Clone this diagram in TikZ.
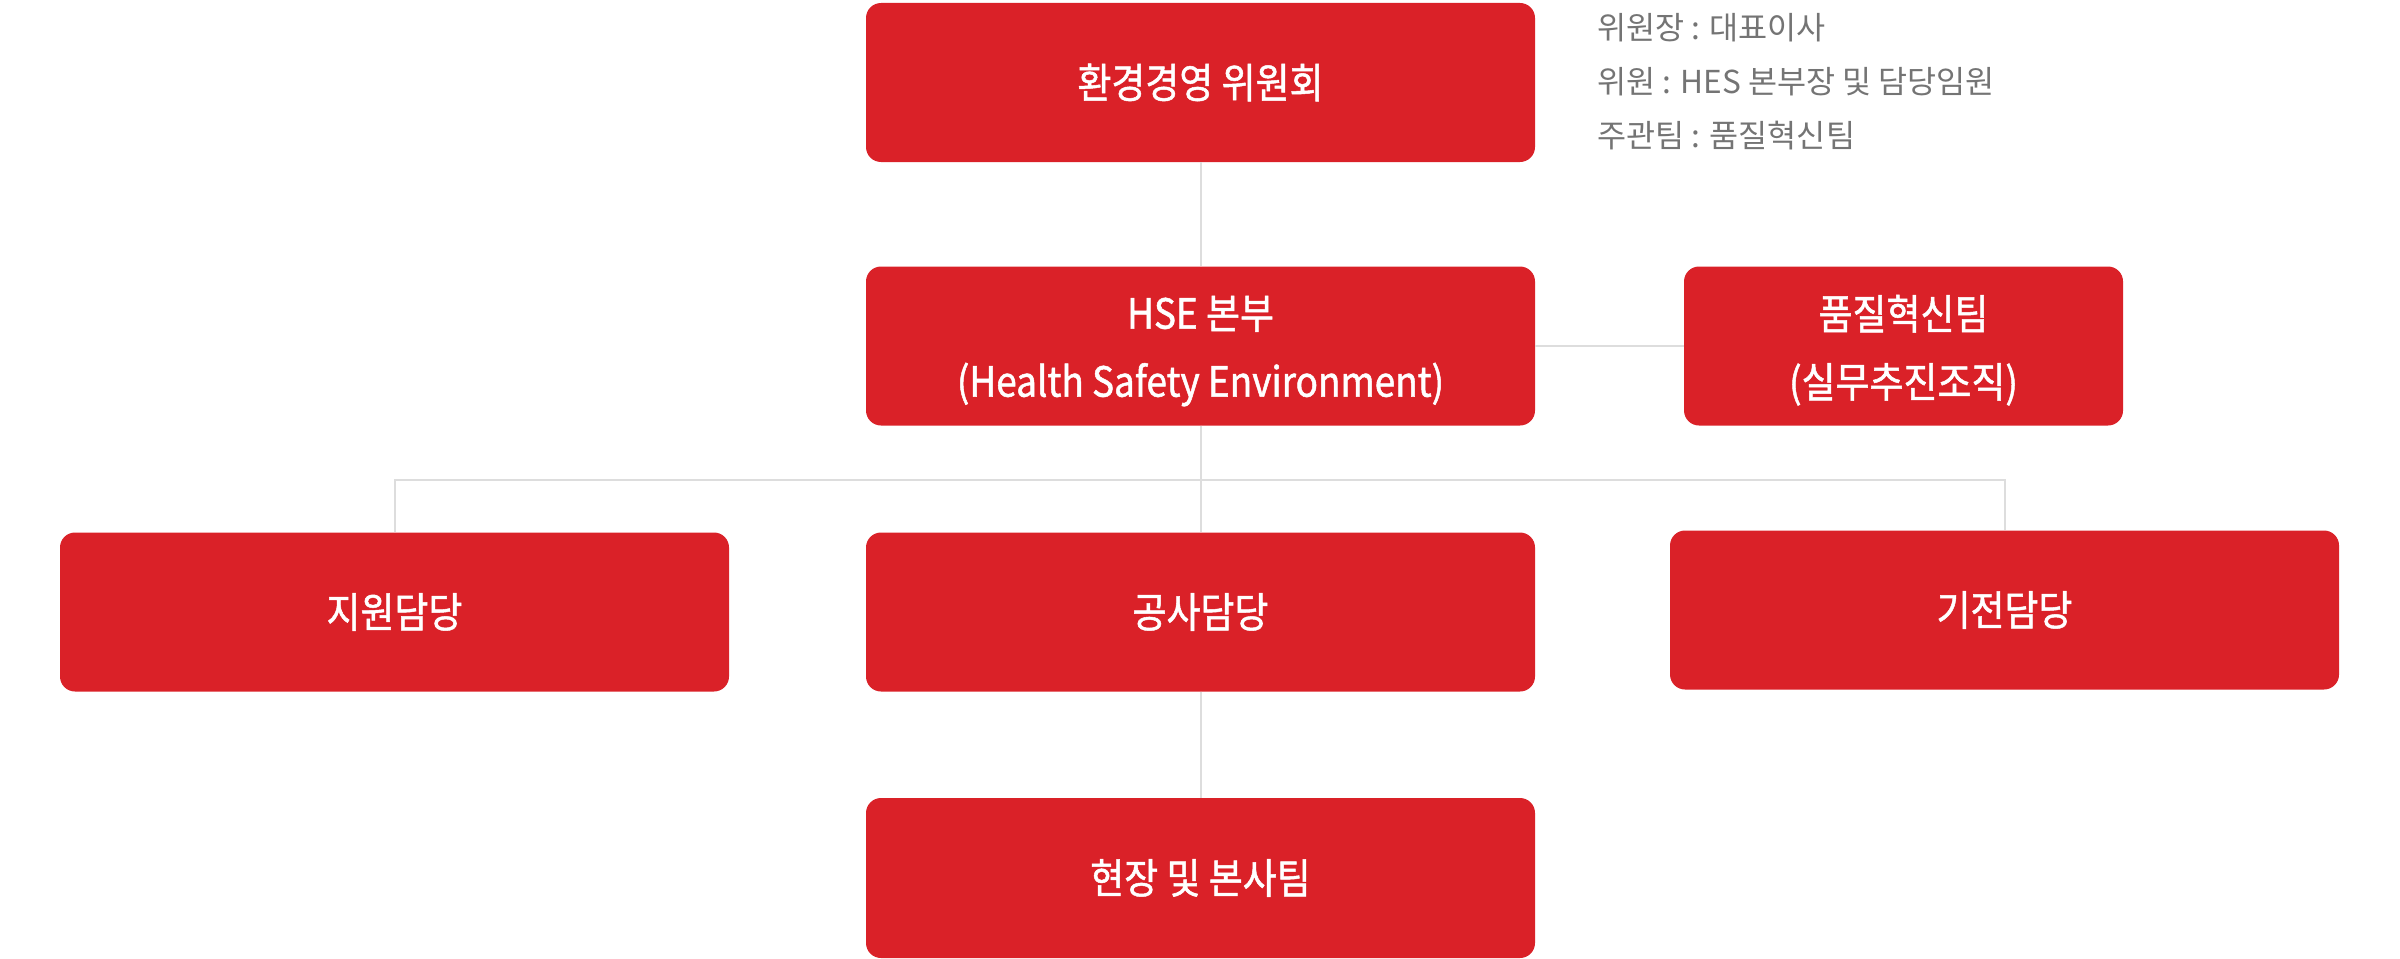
\documentclass[tikz,border=0pt]{standalone}
\usepackage{fontspec}
\newfontfamily\kr{Noto Sans CJK KR}
\newfontfamily\krbox[FakeStretch=0.89, FakeBold=1.2]{Noto Sans CJK KR}
\definecolor{boxred}{HTML}{DA2128}
\definecolor{linegray}{HTML}{DDDDDD}
\definecolor{notegray}{HTML}{747474}
\newcommand{\toppad}{\rule{0pt}{43pt}}
\begin{document}
\begin{tikzpicture}[x=1pt,y=-1pt,
  orgbox/.style={fill=boxred, rounded corners=15pt, minimum width=669pt, minimum height=159pt,
    inner sep=0pt, text=white, font=\krbox\fontsize{41.5}{68}\selectfont, align=center},
  conn/.style={draw=linegray, line width=2pt},
  note/.style={text=notegray, font=\kr\fontsize{31.6}{54}\selectfont, anchor=west, inner sep=0pt}]
\useasboundingbox (0,0) rectangle (2400,958);
\node[orgbox] (top) at (1200.5,82.5) {환경경영 위원회};
\node[orgbox] (hse) at (1200.5,346) {\toppad HSE 본부\\(Health Safety Environment)};
\node[orgbox, minimum width=439pt] (qi) at (1903.5,346) {\toppad 품질혁신팀\\(실무추진조직)};
\node[orgbox] (jiwon) at (394.5,612) {지원담당};
\node[orgbox] (gongsa) at (1200.5,612) {공사담당};
\node[orgbox] (gijeon) at (2004.5,610) {기전담당};
\node[orgbox, minimum height=160pt] (site) at (1200.5,878) {현장 및 본사팀};
\coordinate (bus) at (1200.5,480);
\node[note] (n1) at (1597,28) {위원장 : 대표이사};
\node[note] (n2) at (1597,82) {위원 : HES 본부장 및 담당임원};
\node[note] (n3) at (1597,136) {주관팀 : 품질혁신팀};
\draw[conn] (top) -- (hse);
\draw[conn] (hse) -- (gongsa);
\draw[conn] (gongsa) -- (site);
\draw[conn] (hse) -- (qi);
\draw[conn] (jiwon.north) -- (jiwon.north |- bus) -- (gijeon.north |- bus) -- (gijeon.north);
\end{tikzpicture}
\end{document}
